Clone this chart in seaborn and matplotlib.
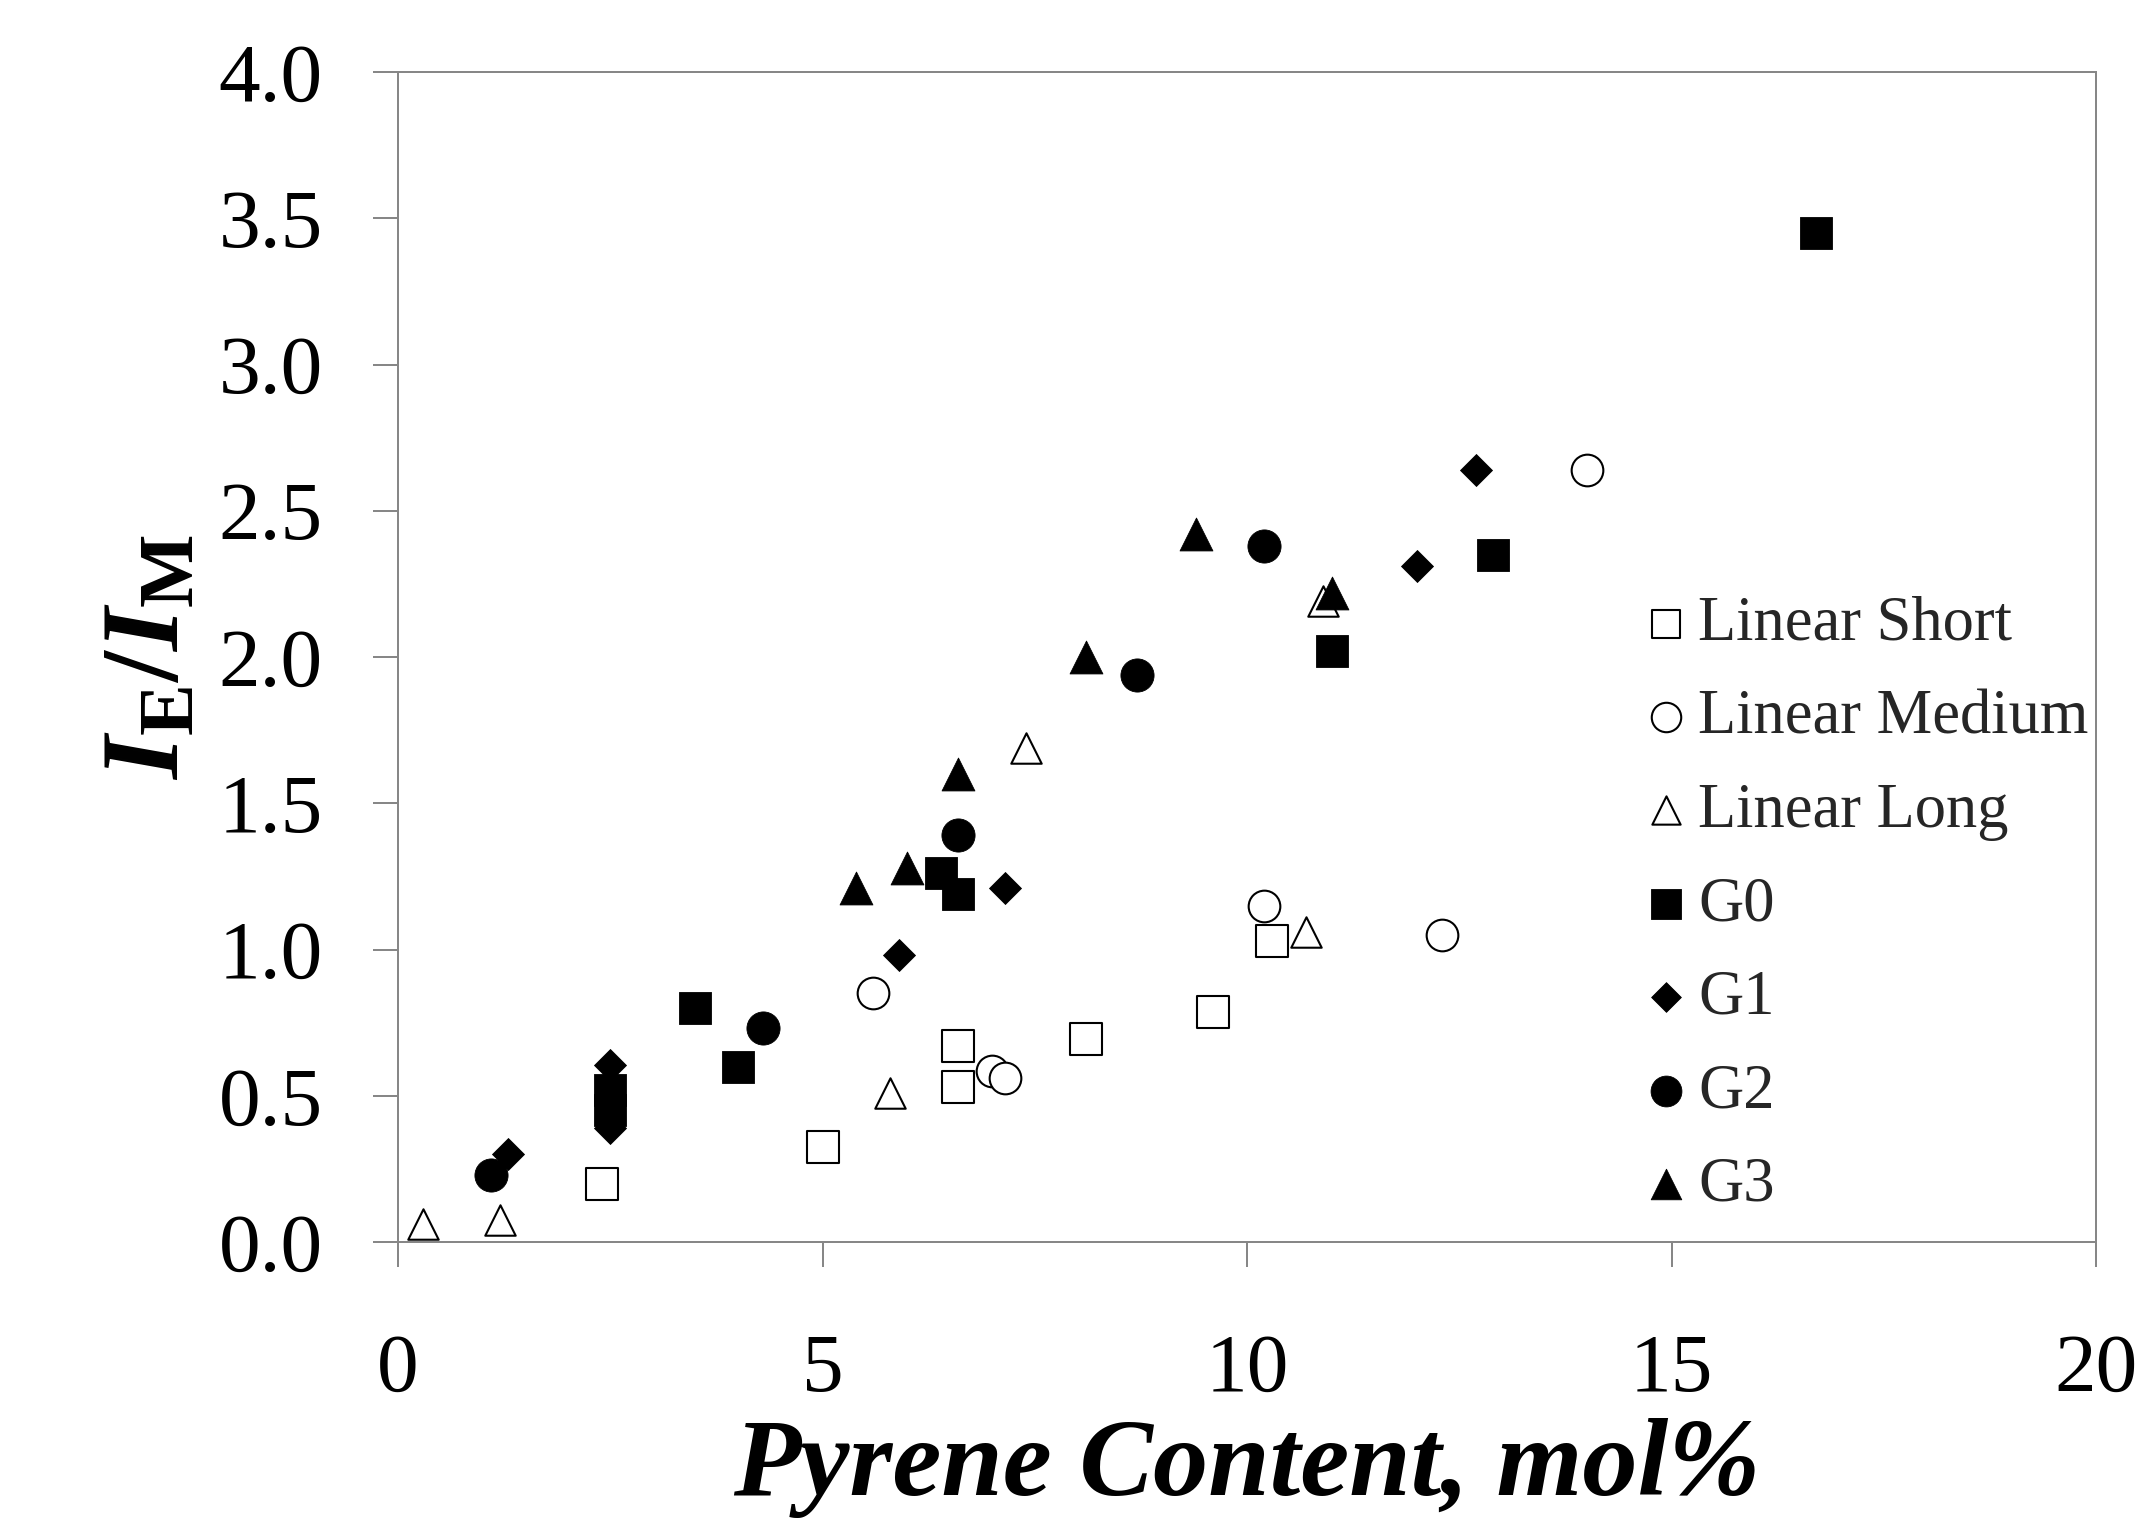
import matplotlib
matplotlib.use("Agg")
import matplotlib.pyplot as plt
import seaborn as sns
from matplotlib.font_manager import FontProperties

# ---------------- data ----------------
linear_short_x = [2.4, 5.0, 6.6, 6.6, 8.1, 9.6, 10.3]
linear_short_y = [0.20, 0.325, 0.67, 0.53, 0.695, 0.785, 1.03]

linear_medium_x = [5.6, 7.0, 7.15, 10.2, 12.3, 14.0]
linear_medium_y = [0.85, 0.585, 0.56, 1.15, 1.05, 2.64]

linear_long_x = [0.3, 1.2, 5.8, 7.4, 10.7, 10.9]
linear_long_y = [0.06, 0.075, 0.51, 1.69, 1.06, 2.19]

g0_x = [2.5, 2.5, 3.5, 4.0, 6.4, 6.6, 11.0, 12.9, 16.7]
g0_y = [0.52, 0.45, 0.80, 0.60, 1.26, 1.19, 2.02, 2.35, 3.45]

g1_x = [1.3, 2.5, 2.5, 5.9, 7.15, 12.0, 12.7]
g1_y = [0.30, 0.605, 0.39, 0.98, 1.21, 2.31, 2.64]

g2_x = [1.1, 4.3, 6.6, 8.7, 10.2]
g2_y = [0.23, 0.73, 1.39, 1.94, 2.38]

g3_x = [5.4, 6.0, 6.6, 8.1, 9.4, 11.0]
g3_y = [1.21, 1.28, 1.60, 2.00, 2.42, 2.22]

series_names = ["Linear Short", "Linear Medium", "Linear Long", "G0", "G1", "G2", "G3"]
x_ticks = [0, 5, 10, 15, 20]
y_ticks = [0.0, 0.5, 1.0, 1.5, 2.0, 2.5, 3.0, 3.5, 4.0]
x_label = "Pyrene Content, mol%"
y_label = r"$\mathit{I}_{\mathbf{E}}/\mathit{I}_{\mathbf{M}}$"

# ---------------- style ----------------
sns.set_theme(style="white")
plt.rcParams["font.family"] = ["Liberation Serif", "DejaVu Serif"]
plt.rcParams["mathtext.fontset"] = "custom"
plt.rcParams["mathtext.rm"] = "Liberation Serif:bold"
plt.rcParams["mathtext.it"] = "Liberation Serif:italic:bold"
plt.rcParams["mathtext.bf"] = "Liberation Serif:bold"

W, H = 2148, 1527
fig = plt.figure(figsize=(W / 100, H / 100), dpi=100)
L, R, T, B = 398, 2096, 72, 1242
ax = fig.add_axes([L / W, 1 - B / H, (R - L) / W, (B - T) / H])

gray = "#878787"
styles = [
    # marker, face, size(area pt^2), linewidth
    ("s", "white", 500, 1.5),
    ("o", "white", 520, 1.5),
    ("^", "white", 480, 1.5),
    ("s", "black", 530, 0.6),
    ("D", "black", 265, 0.6),
    ("o", "black", 570, 0.6),
    ("^", "black", 560, 0.6),
]
data = [
    (linear_short_x, linear_short_y),
    (linear_medium_x, linear_medium_y),
    (linear_long_x, linear_long_y),
    (g0_x, g0_y),
    (g1_x, g1_y),
    (g2_x, g2_y),
    (g3_x, g3_y),
]
for name, (xs, ys), (m, fc, s, lw) in zip(series_names, data, styles):
    sns.scatterplot(x=xs, y=ys, marker=m, s=s, color=fc, edgecolor="black",
                    linewidth=lw, label=name, ax=ax, zorder=3)

ax.set_xlim(0, 20)
ax.set_ylim(0, 4)
ax.set_xticks(x_ticks)
ax.set_xticklabels([str(v) for v in x_ticks])
ax.set_yticks(y_ticks)
ax.set_yticklabels([f"{v:.1f}" for v in y_ticks])

for sp in ax.spines.values():
    sp.set_visible(True)
    sp.set_color(gray)
    sp.set_linewidth(1.44)

ax.tick_params(axis="both", which="major", direction="out", length=18,
               width=1.44, color=gray, labelcolor="black", labelsize=60)
ax.tick_params(axis="x", bottom=True, top=False, pad=48)
ax.tick_params(axis="y", left=True, right=False, pad=36)

ax.set_xlabel(x_label, fontsize=79.5, fontweight="bold", fontstyle="italic",
              labelpad=6, color="black")
ax.set_ylabel(y_label, fontsize=80, labelpad=12, color="black")

leg_font = FontProperties(family="Liberation Serif", size=45)
ax.legend(loc="upper left", bbox_to_anchor=(1641 / W, 1 - 596 / H),
          bbox_transform=fig.transFigure, frameon=False, prop=leg_font,
          markerscale=0.93, handlelength=0.8, handletextpad=0.12,
          labelspacing=0.567, borderpad=0, borderaxespad=0)

fig.savefig("out.png", dpi=100, facecolor="white")
